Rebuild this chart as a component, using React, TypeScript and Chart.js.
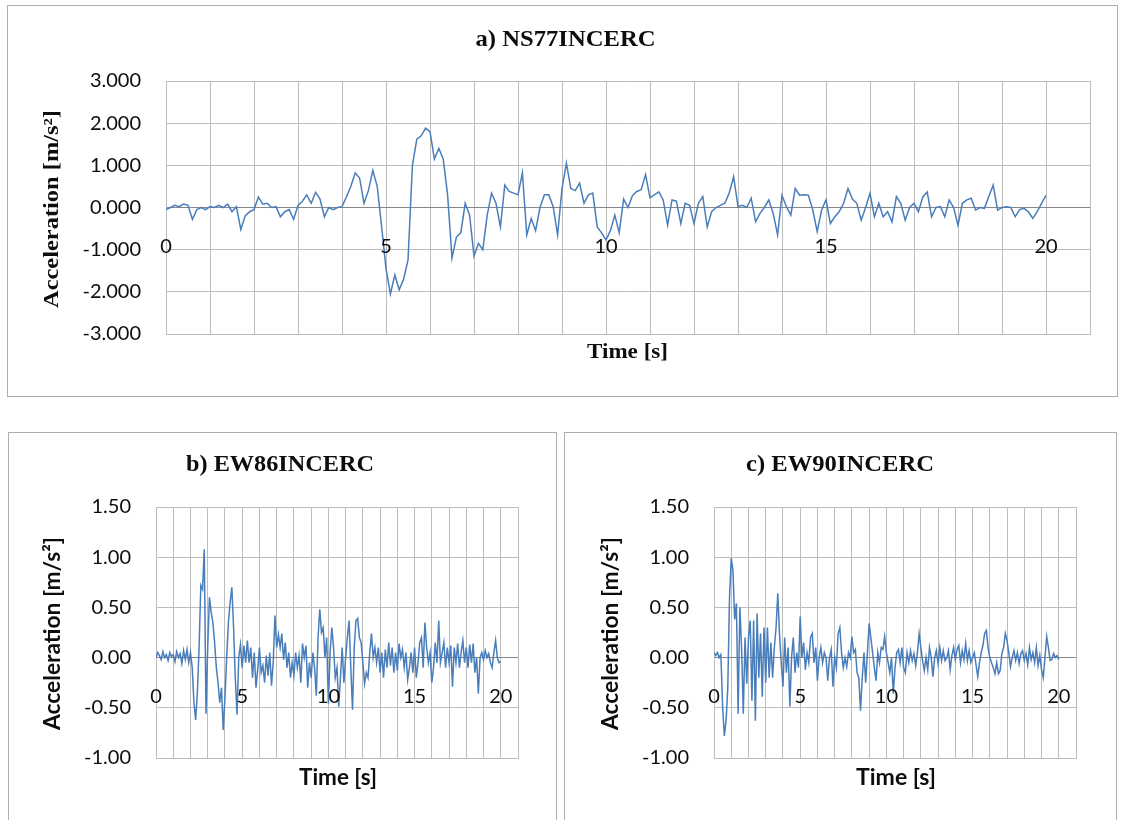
import React, { useEffect, useRef } from 'react';
import { Chart, registerables } from 'chart.js';

Chart.register(...registerables);

// Sampling interval of the accelerograms (s)
const SAMPLE_STEP_S = 0.1;

// a) NS77INCERC acceleration [m/s²], one value per 0.1 s from 0 to 20 s
const accNS77 = [
  -0.05, 0.0, 0.05, 0.02, 0.08, 0.05, -0.28, -0.05, 0.0, -0.05,
  0.02, 0.0, 0.05, 0.0, 0.08, -0.1, 0.02, -0.52, -0.2, -0.1,
  -0.05, 0.25, 0.08, 0.1, 0.0, 0.02, -0.22, -0.1, -0.05, -0.28,
  0.05, 0.15, 0.3, 0.1, 0.36, 0.2, -0.22, 0.0, -0.05, 0.0,
  0.02, 0.25, 0.5, 0.82, 0.7, 0.1, 0.4, 0.88, 0.5, -0.45,
  -1.45, -2.05, -1.6, -1.95, -1.7, -1.25, 1.0, 1.62, 1.7, 1.88,
  1.8, 1.15, 1.4, 1.15, 0.3, -1.2, -0.7, -0.6, 0.1, -0.18,
  -1.15, -0.85, -1.0, -0.18, 0.34, 0.1, -0.46, 0.53, 0.38, 0.34,
  0.3, 0.82, -0.65, -0.26, -0.55, 0.0, 0.3, 0.3, 0.02, -0.65,
  0.45, 1.05, 0.45, 0.4, 0.58, 0.1, 0.3, 0.34, -0.46, -0.6,
  -0.77, -0.55, -0.18, -0.6, 0.2, 0.0, 0.28, 0.38, 0.42, 0.78,
  0.23, 0.3, 0.37, 0.18, -0.42, 0.18, 0.15, -0.38, 0.1, 0.05,
  -0.38, 0.1, 0.26, -0.46, -0.1, 0.0, 0.05, 0.1, 0.34, 0.73,
  0.02, 0.05, 0.0, 0.22, -0.34, -0.14, 0.0, 0.18, -0.14, -0.65,
  0.29, 0.02, -0.18, 0.45, 0.29, 0.3, 0.29, -0.06, -0.57, -0.06,
  0.18, -0.38, -0.22, -0.1, 0.1, 0.45, 0.2, 0.1, -0.3, 0.0,
  0.34, -0.22, 0.1, -0.22, -0.1, -0.34, 0.26, 0.1, -0.3, 0.0,
  0.1, -0.1, 0.25, 0.37, -0.22, 0.0, 0.02, -0.22, 0.18, 0.0,
  -0.42, 0.1, 0.18, 0.22, -0.06, 0.0, -0.02, 0.26, 0.53, -0.06,
  0.0, 0.02, 0.0, -0.22, -0.05, -0.02, -0.1, -0.26, -0.1, 0.1,
  0.29,
];

// b) EW86INCERC acceleration [m/s²]
const accEW86 = [
  0.0, 0.05, 0.02, -0.02, 0.06, 0.0, 0.03, -0.03, 0.05, 0.01,
  0.03, -0.04, 0.06, 0.0, 0.04, -0.06, 0.07, -0.02, 0.08, -0.05,
  0.05, -0.1, -0.45, -0.62, -0.35, 0.1, 0.72, 0.68, 1.08, -0.56,
  0.1, 0.6, 0.45, 0.35, 0.15, -0.1, -0.25, -0.45, -0.3, -0.72,
  -0.4, 0.0, 0.35, 0.55, 0.7, 0.3, -0.2, -0.57, 0.0, 0.13,
  -0.1, 0.12, -0.05, 0.17, -0.05, 0.1, -0.2, 0.05, -0.3, -0.12,
  0.1, -0.15, -0.08, -0.25, 0.02, -0.18, 0.05, -0.28, -0.05, 0.42,
  0.1, 0.23, 0.1, 0.24, -0.02, 0.15, -0.1, 0.05, -0.2, -0.05,
  -0.18, 0.05, -0.1, 0.02, -0.25, 0.14, 0.0, 0.12, -0.3, -0.05,
  -0.2, 0.05, -0.1, -0.38, 0.2, 0.48, 0.25, 0.3, 0.0, 0.2,
  -0.46, 0.05, 0.3, 0.1, -0.2, -0.1, -0.49, -0.2, 0.1, -0.25,
  0.0, 0.2, 0.37, -0.1, -0.52, 0.1, 0.37, 0.39, 0.2, 0.15,
  -0.05, -0.26, -0.15, -0.2, 0.05, 0.24, 0.0, 0.1, -0.05, 0.1,
  -0.15, 0.05, -0.2, 0.08, -0.1, 0.15, -0.08, 0.1, -0.15, 0.05,
  -0.13, 0.14, 0.0, 0.08, -0.1, 0.05, -0.22, -0.1, 0.05, -0.15,
  0.1, -0.2, -0.05, 0.15, 0.2, -0.1, 0.35, 0.1, -0.05, 0.05,
  -0.25, -0.1, 0.15, -0.05, 0.37, -0.05, 0.05, 0.15, -0.1, 0.1,
  -0.05, 0.12, -0.29, 0.1, -0.05, 0.14, -0.1, 0.05, 0.17, -0.05,
  0.1, -0.1, 0.13, -0.05, 0.14, -0.15, 0.0, -0.36, 0.0, 0.05,
  -0.02, 0.07, 0.0, 0.04, -0.05, -0.1, 0.05, 0.17, 0.0, -0.05,
  -0.04,
];

// c) EW90INCERC acceleration [m/s²]
const accEW90 = [
  0.05, 0.02, 0.05, 0.0, 0.03, -0.49, -0.78, -0.63, -0.3, 0.6,
  0.99, 0.87, 0.38, 0.54, -0.56, 0.5, 0.1, -0.56, 0.2, -0.26,
  0.2, 0.37, -0.43, 0.37, -0.63, 0.44, -0.2, 0.24, -0.39, 0.3,
  -0.25, 0.3, -0.2, 0.15, -0.2, 0.1, 0.3, 0.64, 0.24, -0.05,
  -0.29, 0.2, -0.15, 0.1, -0.49, 0.0, 0.2, -0.15, 0.05, -0.1,
  0.41, 0.0, 0.15, -0.12, 0.05, -0.05, 0.2, 0.24, -0.05, 0.1,
  -0.23, 0.0, 0.1, -0.05, 0.05, 0.0, -0.23, 0.0, 0.08, -0.29,
  0.0, -0.1, 0.24, 0.3, 0.05, -0.1, 0.0, -0.09, 0.05, 0.0,
  0.21, 0.05, 0.08, -0.15, -0.2, -0.53, -0.2, 0.05, -0.25, 0.05,
  0.34, 0.2, 0.05, -0.1, -0.23, 0.05, -0.05, 0.1, 0.08, 0.21,
  0.05, -0.05, -0.15, 0.0, -0.36, -0.1, 0.05, 0.08, -0.05, 0.1,
  -0.1, -0.15, 0.05, -0.05, 0.07, -0.03, 0.04, -0.08, 0.05, 0.24,
  0.1, -0.03, -0.13, 0.0, -0.12, 0.1, 0.0, -0.19, 0.0, 0.07,
  -0.06, 0.1, -0.03, 0.07, -0.03, 0.0, 0.07, -0.12, 0.02, 0.1,
  -0.02, 0.08, 0.12, -0.05, 0.07, -0.02, 0.14, -0.03, 0.07, -0.05,
  0.0, 0.05, -0.07, -0.19, -0.05, 0.05, 0.12, 0.24, 0.27, 0.1,
  0.0, -0.05, -0.1, -0.16, -0.05, -0.16, -0.13, 0.04, 0.1, 0.24,
  0.17, 0.05, -0.09, 0.0, 0.07, -0.03, 0.05, -0.06, 0.04, 0.07,
  -0.03, 0.04, -0.07, 0.1, -0.02, 0.05, -0.05, 0.1, -0.08, 0.02,
  -0.12, -0.2, 0.0, 0.21, 0.1, -0.03, -0.02, 0.04, 0.0, 0.02,
  -0.02,
];

// Axis ticks
const xTimeLabels = [0, 5, 10, 15, 20];
const xRange = [0, 21];
const yRangeA = [-3, 3];
const yRangeBC = [-1, 1.5];

const GRID = '#bdbdbd';
const ZERO = '#868686';
const LINE = '#4a7ebb';
const SERIF = '"Liberation Serif", "Times New Roman", serif';
const SANS = 'Lato, "Open Sans", sans-serif';

type TextItem = { text: string; x: number; y: number; font: string; width?: number; rotate?: boolean };
type PanelCfg = {
  box: { left: number; top: number; width: number; height: number };
  plot: { left: number; top: number; right: number; bottom: number };
  values: number[];
  yRange: number[];
  yStep: number;
  yDecimals: number;
  texts: TextItem[];
};

const panels: PanelCfg[] = [
  {
    box: { left: 7, top: 5, width: 1111, height: 392 },
    plot: { left: 166, top: 81, right: 1090, bottom: 334 },
    values: accNS77,
    yRange: yRangeA,
    yStep: 1,
    yDecimals: 3,
    texts: [
      { text: 'a) NS77INCERC', x: 565.5, y: 40, font: `bold 23px ${SERIF}`, width: 180 },
      { text: 'Acceleration [m/s²]', x: 52, y: 209, font: `bold 22px ${SERIF}`, width: 198, rotate: true },
      { text: 'Time [s]', x: 627.5, y: 352, font: `bold 22px ${SERIF}`, width: 81 },
    ],
  },
  {
    box: { left: 8, top: 432, width: 549, height: 420 },
    plot: { left: 156, top: 507, right: 518, bottom: 758 },
    values: accEW86,
    yRange: yRangeBC,
    yStep: 0.5,
    yDecimals: 2,
    texts: [
      { text: 'b) EW86INCERC', x: 280, y: 465, font: `bold 23px ${SERIF}`, width: 188 },
      { text: 'Acceleration [m/s²]', x: 53, y: 633.5, font: `bold 22px ${SANS}`, width: 193, rotate: true },
      { text: 'Time [s]', x: 338, y: 778, font: `bold 22px ${SANS}`, width: 78 },
    ],
  },
  {
    box: { left: 564, top: 432, width: 553, height: 420 },
    plot: { left: 714, top: 507, right: 1076, bottom: 758 },
    values: accEW90,
    yRange: yRangeBC,
    yStep: 0.5,
    yDecimals: 2,
    texts: [
      { text: 'c) EW90INCERC', x: 840, y: 465, font: `bold 23px ${SERIF}`, width: 188 },
      { text: 'Acceleration [m/s²]', x: 611, y: 633.5, font: `bold 22px ${SANS}`, width: 193, rotate: true },
      { text: 'Time [s]', x: 896, y: 778, font: `bold 22px ${SANS}`, width: 80 },
    ],
  },
];

function Panel({ cfg }: { cfg: PanelCfg }) {
  const ref = useRef<HTMLCanvasElement | null>(null);
  const cx = cfg.box.left + 1;
  const cy = cfg.box.top + 1;
  const cw = cfg.box.width - 2;
  const ch = cfg.box.height - 2;

  useEffect(() => {
    const canvas = ref.current;
    if (!canvas) return;
    const points = cfg.values.map((v, i) => ({ x: i * SAMPLE_STEP_S, y: v }));

    const textPlugin = {
      id: 'panelTexts',
      afterDraw(chart: any) {
        const ctx = chart.ctx;
        const xs = chart.scales.x;
        const ys = chart.scales.y;
        ctx.save();
        ctx.fillStyle = '#0d0d0d';
        // time labels inside the plot, below the zero axis
        ctx.font = `20px ${SANS}`;
        ctx.textAlign = 'center';
        ctx.textBaseline = 'middle';
        const y0 = ys.getPixelForValue(0) + 39;
        xTimeLabels.forEach((t) => {
          ctx.fillText(String(t), xs.getPixelForValue(t), y0);
        });
        // titles
        cfg.texts.forEach((it) => {
          ctx.save();
          ctx.translate(it.x - cx, it.y - cy);
          if (it.rotate) ctx.rotate(-Math.PI / 2);
          ctx.font = it.font;
          ctx.textAlign = 'center';
          ctx.textBaseline = 'middle';
          const w = ctx.measureText(it.text).width;
          if (it.width && w > 0) ctx.scale(it.width / w, 1);
          ctx.fillText(it.text, 0, 0);
          ctx.restore();
        });
        ctx.restore();
      },
    };

    const chart = new Chart(canvas, {
      type: 'line',
      data: {
        datasets: [
          {
            data: points,
            borderColor: LINE,
            borderWidth: 1.5,
            pointRadius: 0,
            tension: 0,
            fill: false,
          },
        ],
      },
      options: {
        animation: false,
        responsive: false,
        devicePixelRatio: 1,
        layout: {
          padding: {
            left: 0,
            top: cfg.plot.top - cy,
            right: cw - (cfg.plot.right - cx),
            bottom: ch - (cfg.plot.bottom - cy),
          },
        },
        plugins: {
          legend: { display: false },
          tooltip: { enabled: false },
          title: { display: false },
        },
        scales: {
          x: {
            type: 'linear',
            min: xRange[0],
            max: xRange[1],
            ticks: { display: false, stepSize: 1, autoSkip: false },
            grid: { color: GRID, lineWidth: 1, drawTicks: false },
            border: { display: true, color: GRID },
            afterFit: (s: any) => {
              s.height = 0;
            },
          },
          y: {
            type: 'linear',
            min: cfg.yRange[0],
            max: cfg.yRange[1],
            ticks: {
              stepSize: cfg.yStep,
              autoSkip: false,
              padding: 25,
              color: '#0d0d0d',
              font: { family: SANS, size: 20 },
              callback: (v: any) => Number(v).toFixed(cfg.yDecimals),
            },
            grid: {
              color: (c: any) => (c.tick && Math.abs(c.tick.value) < 1e-9 ? ZERO : GRID),
              lineWidth: 1,
              drawTicks: false,
            },
            border: { display: true, color: GRID },
            afterFit: (s: any) => {
              s.width = cfg.plot.left - cx;
            },
          },
        },
      },
      plugins: [textPlugin],
    } as any);

    return () => chart.destroy();
  }, [cfg]);

  return (
    <div
      style={{
        position: 'absolute',
        left: cfg.box.left,
        top: cfg.box.top,
        width: cfg.box.width,
        height: cfg.box.height,
        boxSizing: 'border-box',
        border: '1px solid #adadad',
        background: '#fff',
      }}
    >
      <canvas
        ref={ref}
        width={cw}
        height={ch}
        style={{ position: 'absolute', left: 0, top: 0, width: cw, height: ch, display: 'block' }}
      />
    </div>
  );
}

export default function App() {
  return (
    <div
      style={{
        position: 'fixed',
        left: 0,
        top: 0,
        width: 1122,
        height: 820,
        overflow: 'hidden',
        background: '#fff',
      }}
    >
      {panels.map((p, i) => (
        <Panel key={i} cfg={p} />
      ))}
    </div>
  );
}
